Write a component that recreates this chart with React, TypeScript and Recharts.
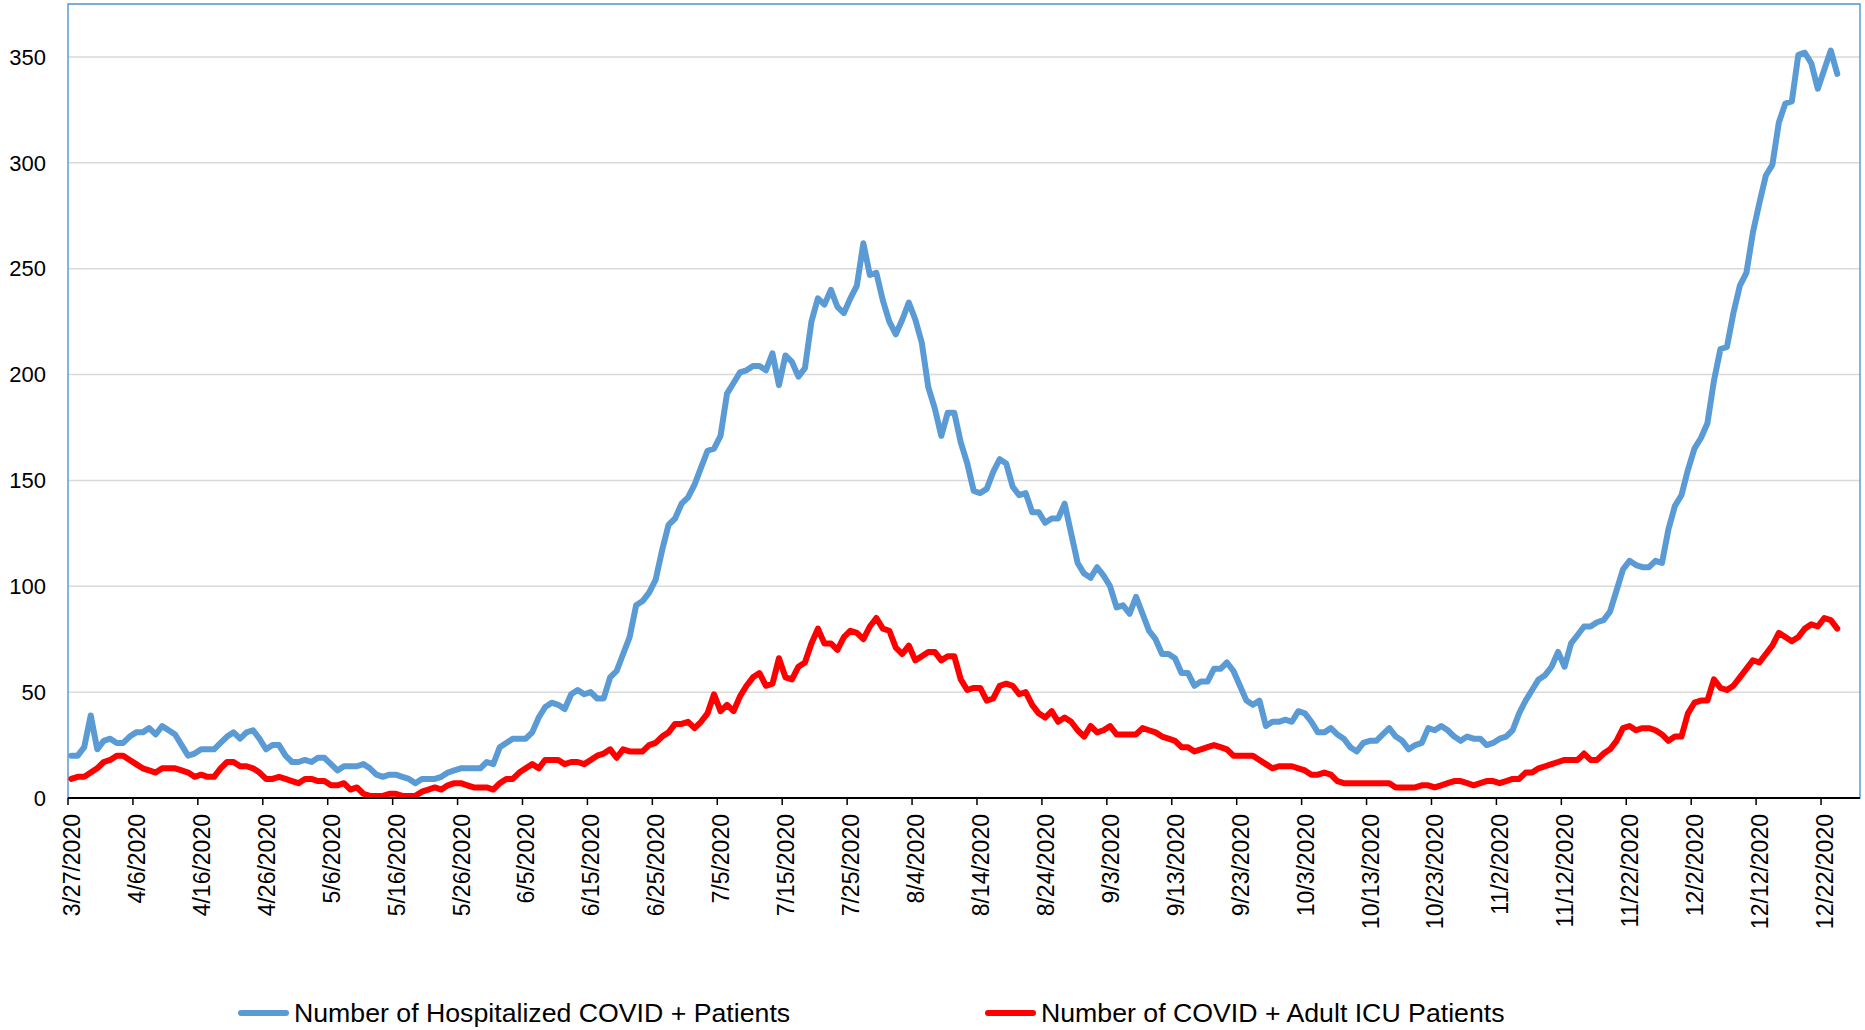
import React from "react";
import {
  LineChart,
  Line,
  XAxis,
  YAxis,
  CartesianGrid,
  ReferenceArea,
  Legend,
} from "recharts";

// daily values starting 3/27/2020
const hospitalized = [
  20, 20, 24, 39, 23, 27, 28, 26, 26, 29,
  31, 31, 33, 30, 34, 32, 30, 25, 20, 21,
  23, 23, 23, 26, 29, 31, 28, 31, 32, 28,
  23, 25, 25, 20, 17, 17, 18, 17, 19, 19,
  16, 13, 15, 15, 15, 16, 14, 11, 10, 11,
  11, 10, 9, 7, 9, 9, 9, 10, 12, 13,
  14, 14, 14, 14, 17, 16, 24, 26, 28, 28,
  28, 31, 38, 43, 45, 44, 42, 49, 51, 49,
  50, 47, 47, 57, 60, 68, 76, 91, 93, 97,
  103, 117, 129, 132, 139, 142, 148, 156, 164, 165,
  171, 191, 196, 201, 202, 204, 204, 202, 210, 195,
  209, 206, 199, 203, 225, 236, 233, 240, 232, 229,
  236, 242, 262, 247, 248, 235, 225, 219, 226, 234,
  226, 215, 194, 184, 171, 182, 182, 168, 158, 145,
  144, 146, 154, 160, 158, 147, 143, 144, 135, 135,
  130, 132, 132, 139, 125, 111, 106, 104, 109, 105,
  100, 90, 91, 87, 95, 87, 79, 75, 68, 68,
  66, 59, 59, 53, 55, 55, 61, 61, 64, 60,
  53, 46, 44, 46, 34, 36, 36, 37, 36, 41,
  40, 36, 31, 31, 33, 30, 28, 24, 22, 26,
  27, 27, 30, 33, 29, 27, 23, 25, 26, 33,
  32, 34, 32, 29, 27, 29, 28, 28, 25, 26,
  28, 29, 32, 40, 46, 51, 56, 58, 62, 69,
  62, 73, 77, 81, 81, 83, 84, 88, 98, 108,
  112, 110, 109, 109, 112, 111, 127, 138, 143, 155,
  165, 170, 177, 197, 212, 213, 229, 242, 248, 267,
  281, 294, 299, 319, 328, 329, 351, 352, 347, 335,
  344, 353, 342,
];

const icu = [
  9, 10, 10, 12, 14, 17, 18, 20, 20, 18,
  16, 14, 13, 12, 14, 14, 14, 13, 12, 10,
  11, 10, 10, 14, 17, 17, 15, 15, 14, 12,
  9, 9, 10, 9, 8, 7, 9, 9, 8, 8,
  6, 6, 7, 4, 5, 2, 1, 1, 1, 2,
  2, 1, 1, 1, 3, 4, 5, 4, 6, 7,
  7, 6, 5, 5, 5, 4, 7, 9, 9, 12,
  14, 16, 14, 18, 18, 18, 16, 17, 17, 16,
  18, 20, 21, 23, 19, 23, 22, 22, 22, 25,
  26, 29, 31, 35, 35, 36, 33, 36, 40, 49,
  41, 44, 41, 48, 53, 57, 59, 53, 54, 66,
  57, 56, 62, 64, 73, 80, 73, 73, 70, 76,
  79, 78, 75, 81, 85, 80, 79, 71, 68, 72,
  65, 67, 69, 69, 65, 67, 67, 56, 51, 52,
  52, 46, 47, 53, 54, 53, 49, 50, 44, 40,
  38, 41, 36, 38, 36, 32, 29, 34, 31, 32,
  34, 30, 30, 30, 30, 33, 32, 31, 29, 28,
  27, 24, 24, 22, 23, 24, 25, 24, 23, 20,
  20, 20, 20, 18, 16, 14, 15, 15, 15, 14,
  13, 11, 11, 12, 11, 8, 7, 7, 7, 7,
  7, 7, 7, 7, 5, 5, 5, 5, 6, 6,
  5, 6, 7, 8, 8, 7, 6, 7, 8, 8,
  7, 8, 9, 9, 12, 12, 14, 15, 16, 17,
  18, 18, 18, 21, 18, 18, 21, 23, 27, 33,
  34, 32, 33, 33, 32, 30, 27, 29, 29, 40,
  45, 46, 46, 56, 52, 51, 53, 57, 61, 65,
  64, 68, 72, 78, 76, 74, 76, 80, 82, 81,
  85, 84, 80,
];

const dateLabels = [
  "3/27/2020", "4/6/2020", "4/16/2020", "4/26/2020", "5/6/2020", "5/16/2020",
  "5/26/2020", "6/5/2020", "6/15/2020", "6/25/2020", "7/5/2020", "7/15/2020",
  "7/25/2020", "8/4/2020", "8/14/2020", "8/24/2020", "9/3/2020", "9/13/2020",
  "9/23/2020", "10/3/2020", "10/13/2020", "10/23/2020", "11/2/2020",
  "11/12/2020", "11/22/2020", "12/2/2020", "12/12/2020", "12/22/2020",
];
const tickStep = 10;
const yTicks = [0, 50, 100, 150, 200, 250, 300, 350];

const seriesNames = [
  "Number of Hospitalized COVID + Patients",
  "Number of COVID + Adult ICU Patients",
];

const BLUE = "#5B9BD5";
const RED = "#FF0000";
const FONT = "'Liberation Sans', Arial, sans-serif";

// excel date axis puts each day's point in the middle of its slot
const data = hospitalized.map((v, i) => ({
  day: i + 0.5,
  hosp: v,
  icu: icu[i],
}));
const xTicks = dateLabels.map((_, i) => i * tickStep);
const xMax = 276;

const DateTick = ({ x, y, payload }: any) => {
  const label = dateLabels[Math.round(payload.value / tickStep)];
  return (
    <g transform={`translate(${x},${y + 9})`}>
      <text
        transform="rotate(-90)"
        textAnchor="end"
        x={0}
        y={12}
        fill="#000"
        fontSize={23}
        fontFamily={FONT}
      >
        {label}
      </text>
    </g>
  );
};

const ValueTick = ({ y, payload }: any) => (
  <text
    x={46}
    y={y}
    dy="0.35em"
    textAnchor="end"
    fill="#000"
    fontSize={22}
    fontFamily={FONT}
  >
    {payload.value}
  </text>
);

const LegendBox = () => {
  const items = [
    { name: seriesNames[0], color: BLUE, left: 238 },
    { name: seriesNames[1], color: RED, left: 985 },
  ];
  return (
    <div style={{ position: "relative", width: 1865, height: 32 }}>
      {items.map((it) => (
        <div
          key={it.name}
          style={{
            position: "absolute",
            left: it.left,
            top: 0,
            display: "flex",
            alignItems: "center",
            height: 32,
            fontFamily: FONT,
            fontSize: 26.7,
            color: "#000",
            whiteSpace: "nowrap",
          }}
        >
          <span
            style={{
              display: "inline-block",
              width: 51,
              height: 6,
              borderRadius: 3,
              background: it.color,
              marginRight: 5,
            }}
          />
          {it.name}
        </div>
      ))}
    </div>
  );
};

export default function App() {
  return (
    <div style={{ position: "absolute", left: 0, top: 0, background: "#fff" }}>
      <LineChart
        width={1865}
        height={1030}
        data={data}
        margin={{ top: 4, right: 5, bottom: 82, left: 0 }}
      >
        <CartesianGrid
          vertical={false}
          stroke="#D9D9D9"
          strokeWidth={1.5}
        />
        <ReferenceArea
          x1={0}
          x2={xMax}
          y1={0}
          y2={375}
          fill="none"
          fillOpacity={0}
          stroke={BLUE}
          strokeWidth={1.5}
          ifOverflow="visible"
        />
        <XAxis
          dataKey="day"
          type="number"
          domain={[0, xMax]}
          ticks={xTicks}
          interval={0}
          height={150}
          tickSize={7}
          tickMargin={0}
          tick={<DateTick />}
          axisLine={{ stroke: "#000", strokeWidth: 2 }}
          tickLine={{ stroke: "#000", strokeWidth: 1.5 }}
          allowDataOverflow
        />
        <YAxis
          type="number"
          domain={[0, 375]}
          ticks={yTicks}
          interval={0}
          width={68}
          axisLine={false}
          tickLine={false}
          tick={<ValueTick />}
          allowDataOverflow
        />
        <Legend
          layout="vertical"
          align="center"
          verticalAlign="middle"
          content={<LegendBox />}
          wrapperStyle={{ top: 997, left: 0, width: 1865 }}
        />
        <Line
          type="linear"
          dataKey="hosp"
          name={seriesNames[0]}
          stroke={BLUE}
          strokeWidth={6}
          strokeLinejoin="round"
          strokeLinecap="round"
          dot={false}
          isAnimationActive={false}
        />
        <Line
          type="linear"
          dataKey="icu"
          name={seriesNames[1]}
          stroke={RED}
          strokeWidth={6}
          strokeLinejoin="round"
          strokeLinecap="round"
          dot={false}
          isAnimationActive={false}
        />
      </LineChart>
    </div>
  );
}
